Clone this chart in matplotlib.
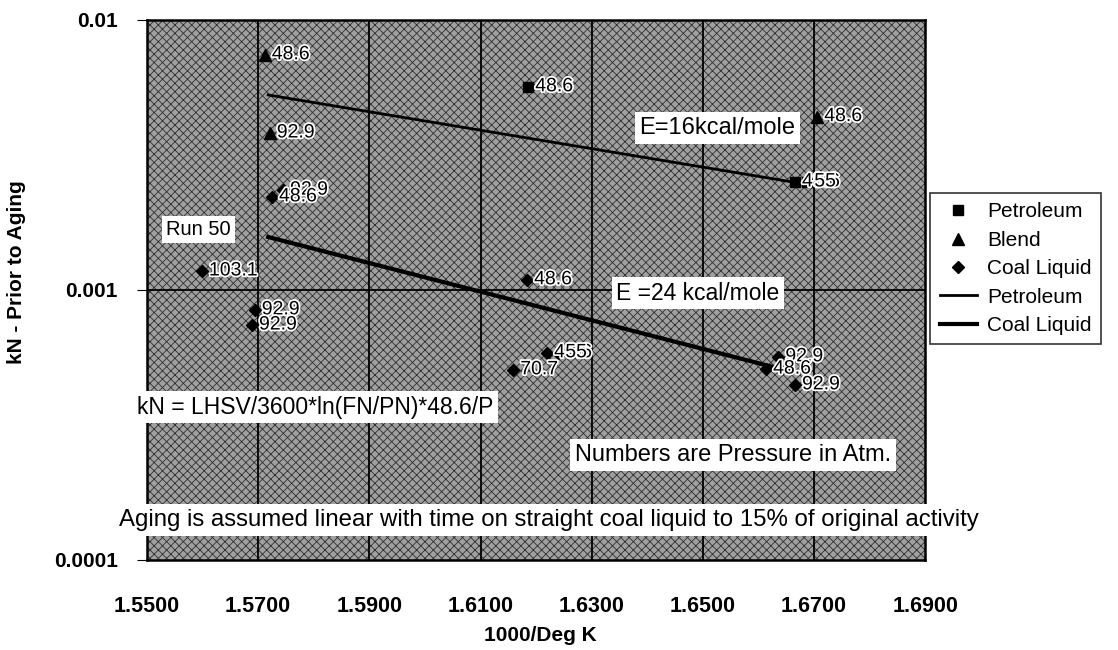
import matplotlib
matplotlib.use("Agg")
import matplotlib.pyplot as plt
import matplotlib.patheffects as pe
from matplotlib.patches import Rectangle
from matplotlib.ticker import FixedLocator, NullLocator

plt.rcParams['font.family'] = ['Liberation Sans', 'DejaVu Sans']
plt.rcParams['hatch.linewidth'] = 0.6

# data (1000/T, kN, pressure label)
pet_x = [1.6186, 1.6666, 1.6688]
pet_y = [0.00565, 0.00251, 0.00251]
pet_lbl = ["48.6", "48.6", "55"]

blend_x = [1.5712, 1.5721, 1.6706]
blend_y = [0.00742, 0.00381, 0.00438]
blend_lbl = ["48.6", "92.9", "48.6"]

coal_x = [1.5745, 1.5725, 1.5599, 1.5694, 1.5689, 1.6184, 1.6220, 1.6240,
          1.6159, 1.6636, 1.6614, 1.6666]
coal_y = [0.00234, 0.00221, 0.001175, 0.000843, 0.000741, 0.00109, 0.000585,
          0.000585, 0.000506, 0.000565, 0.000509, 0.000445]
coal_lbl = ["92.9", "48.6", "103.1", "92.9", "92.9", "48.6", "48.6", "55",
            "70.7", "92.9", "48.6", "92.9"]

# fitted Arrhenius lines (end points)
pet_fit_x = [1.5718, 1.6661]
pet_fit_y = [0.00527, 0.00251]
coal_fit_x = [1.5718, 1.6661]
coal_fit_y = [0.00157, 0.000497]

xticks = [1.55, 1.57, 1.59, 1.61, 1.63, 1.65, 1.67, 1.69]
yticks = [0.0001, 0.001, 0.01]
ytick_lbl = ["0.0001", "0.001", "0.01"]

fig = plt.figure(figsize=(11.18, 6.5), dpi=100)
ax = fig.add_axes([0.1315, 0.1385, 0.696, 0.831])

# dithered grey background of the scan
ax.set_facecolor('#a0a0a0')
ax.add_patch(Rectangle((0, 0), 1, 1, transform=ax.transAxes, facecolor='none',
                       edgecolor='#303030', hatch='xxxx', lw=0, zorder=0))

ax.set_yscale('log')
ax.set_xlim(1.55, 1.69)
ax.set_ylim(0.0001, 0.01)

# grid
for xv in xticks[1:-1]:
    ax.axvline(xv, color='black', lw=1.3, zorder=1)
ax.axhline(0.001, color='black', lw=1.3, zorder=1)

# fitted lines
ax.plot(pet_fit_x, pet_fit_y, color='black', lw=2.0, zorder=3, label='Petroleum')
ax.plot(coal_fit_x, coal_fit_y, color='black', lw=3.0, zorder=3, label='Coal Liquid')

# data points
ax.plot(pet_x, pet_y, ls='none', marker='s', ms=7, color='black', zorder=4, label='Petroleum')
ax.plot(blend_x, blend_y, ls='none', marker='^', ms=8, color='black', zorder=4, label='Blend')
ax.plot(coal_x, coal_y, ls='none', marker='D', ms=6.5, color='black', zorder=4, label='Coal Liquid')

halo = [pe.withStroke(linewidth=2.5, foreground='white')]
for xs, ys, ls in [(pet_x, pet_y, pet_lbl), (blend_x, blend_y, blend_lbl), (coal_x, coal_y, coal_lbl)]:
    for xv, yv, t in zip(xs, ys, ls):
        ax.annotate(t, (xv, yv), xytext=(5, 0), textcoords='offset points',
                    ha='left', va='center', fontsize=14, zorder=5, path_effects=halo)

box = dict(boxstyle='square,pad=0.2', facecolor='white', edgecolor='none')
ax.text(0.066, 0.611, "Run 50", transform=ax.transAxes, ha='center', va='center',
        fontsize=14.5, bbox=box, zorder=6)
ax.text(0.733, 0.800, "E=16kcal/mole", transform=ax.transAxes, ha='center', va='center',
        fontsize=17, bbox=box, zorder=6)
ax.text(0.708, 0.494, "E =24 kcal/mole", transform=ax.transAxes, ha='center', va='center',
        fontsize=16.5, bbox=box, zorder=6)
ax.text(0.216, 0.283, "kN = LHSV/3600*ln(FN/PN)*48.6/P", transform=ax.transAxes,
        ha='center', va='center', fontsize=16.5, bbox=box, zorder=6, clip_on=False)
ax.text(0.753, 0.194, "Numbers are Pressure in Atm.", transform=ax.transAxes,
        ha='center', va='center', fontsize=17, bbox=box, zorder=6)
ax.text(0.517, 0.074,
        "Aging is assumed linear with time on straight coal liquid to 15% of original activity",
        transform=ax.transAxes, ha='center', va='center', fontsize=17.3,
        bbox=dict(boxstyle='square,pad=0.2', facecolor='white', edgecolor='none'),
        zorder=6, clip_on=False)

# axes styling
for s in ax.spines.values():
    s.set_linewidth(1.8)
ax.xaxis.set_major_locator(FixedLocator(xticks))
ax.set_xticklabels(["%.4f" % v for v in xticks])
ax.yaxis.set_major_locator(FixedLocator(yticks))
ax.yaxis.set_minor_locator(NullLocator())
ax.set_yticklabels(ytick_lbl)
ax.tick_params(axis='x', length=0, pad=26, labelsize=15.5)
ax.tick_params(axis='y', length=7, direction='out', pad=14, labelsize=15)
for lb in ax.get_xticklabels() + ax.get_yticklabels():
    lb.set_fontweight('bold')
ax.set_xlabel("1000/Deg K", fontsize=15, fontweight='bold')
ax.xaxis.set_label_coords(0.505, -0.122)
ax.set_ylabel("kN - Prior to Aging", fontsize=15, fontweight='bold')
ax.yaxis.set_label_coords(-0.155, 0.533)

h, l = ax.get_legend_handles_labels()
order = [2, 3, 4, 0, 1]
leg = fig.legend([h[i] for i in order], [l[i] for i in order], loc='upper left',
                 bbox_to_anchor=(0.832, 0.703), fontsize=15, frameon=True, fancybox=False,
                 edgecolor='black', handlelength=1.8, handletextpad=0.5,
                 labelspacing=0.45, borderpad=0.45, borderaxespad=0)
leg.get_frame().set_linewidth(1.2)

fig.savefig("out.png", dpi=100)
